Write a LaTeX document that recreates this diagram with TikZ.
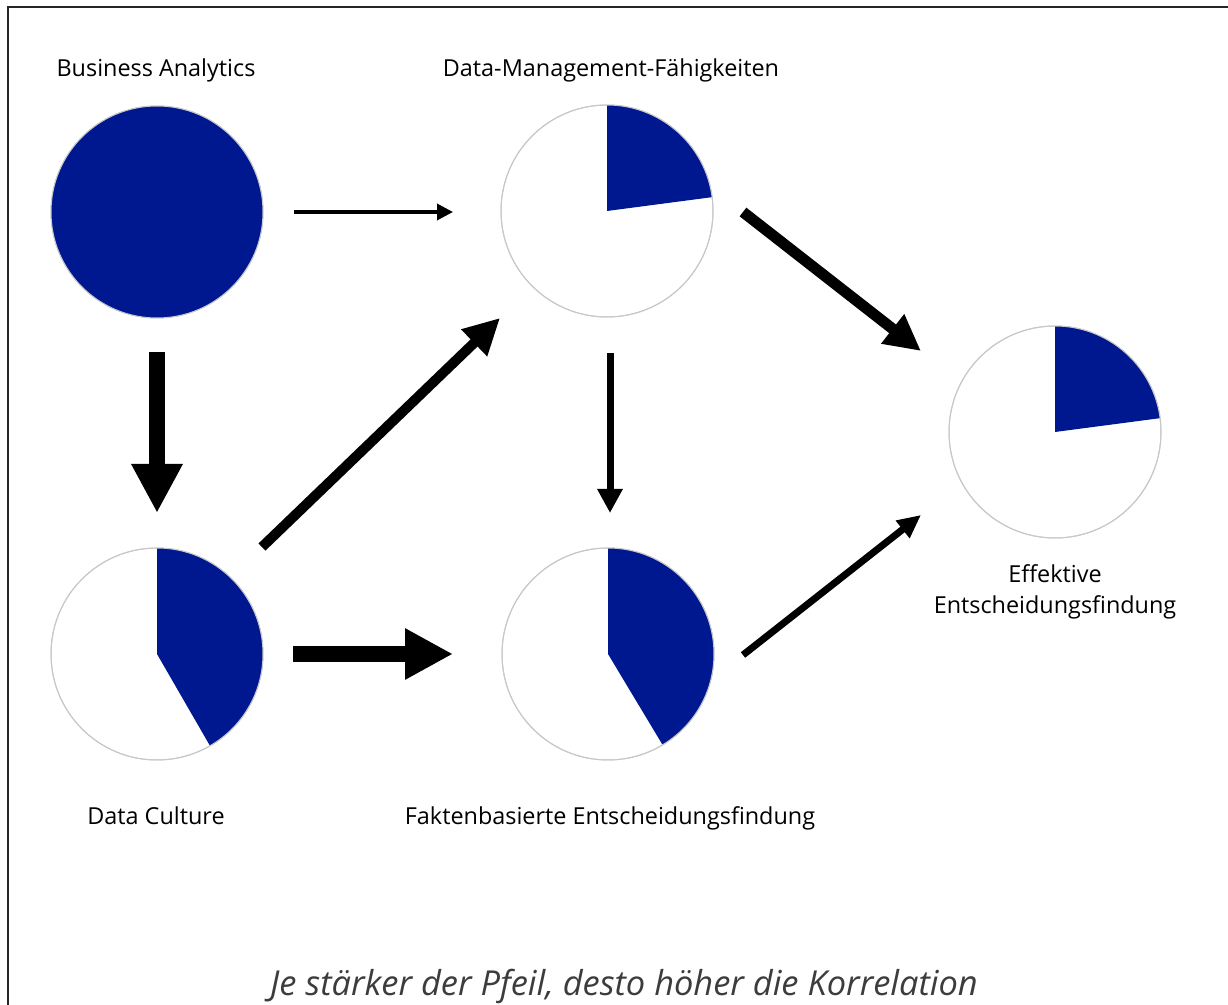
\documentclass[tikz,border=0pt]{standalone}
\usepackage{fontspec}
\setmainfont{Open Sans}
\usetikzlibrary{arrows.meta}
\definecolor{pieblue}{RGB}{0,24,143}
\definecolor{rimgray}{RGB}{200,200,200}
\definecolor{capgray}{RGB}{60,60,60}
\tikzset{
  pie/.style={circle, inner sep=0pt, outer sep=0pt, minimum size=106pt, draw=rimgray, line width=0.5pt},
  lbl/.style={anchor=base, inner sep=0pt, font=\fontsize{11.7}{15.5}\selectfont},
  arr/.style={draw=black, line cap=butt},
}
\begin{document}
\begin{tikzpicture}[x=0.5pt,y=-0.5pt]
\useasboundingbox (0,0) rectangle (1228,1005);
\fill[white] (0,0) rectangle (1228,1005);
\draw[line width=1pt, black!85] (1228,7) -- (8,7) -- (8,1005);

% pie nodes
\node[pie] (ba)  at (157,212) {};
\node[pie] (dm)  at (607,211) {};
\node[pie] (eff) at (1055,432) {};
\node[pie] (dc)  at (157,654) {};
\node[pie] (fe)  at (608,654) {};

\fill[pieblue] (ba.center) circle[radius=53pt];
\fill[pieblue] (dm.center) -- ++(90:53pt) arc[start angle=90, end angle=7.5, radius=53pt] -- cycle;
\fill[pieblue] (eff.center) -- ++(90:53pt) arc[start angle=90, end angle=7.5, radius=53pt] -- cycle;
\fill[pieblue] (dc.center) -- ++(90:53pt) arc[start angle=90, end angle=-60, radius=53pt] -- cycle;
\fill[pieblue] (fe.center) -- ++(90:53pt) arc[start angle=90, end angle=-59, radius=53pt] -- cycle;
\foreach \n in {ba,dm,eff,dc,fe} \draw[rimgray, line width=0.5pt] (\n.center) circle[radius=53pt];

% labels
\node[lbl] (tba) at (156,77) {Business Analytics};
\node[lbl] (tdm) at (611,77) {Data-Management-Fähigkeiten};
\node[lbl] (tdc) at (156,825) {Data Culture};
\node[lbl] (tfe) at (610,825) {Faktenbasierte Entscheidungsfindung};
\node[lbl, align=center, anchor=base] (teff) at (1055,614) {Effektive\\Entscheidungsfindung};
\node[anchor=base, inner sep=0pt, text=capgray, font=\fontsize{17.2}{21}\selectfont\itshape] (cap) at (624,995) {Je stärker der Pfeil, desto höher die Korrelation};

% arrows
\draw[arr, line width=1.75pt, -{Triangle[length=8pt, width=8pt]}]
  ([shift={(31,0)}]ba.east) -- ([shift={(-48,1)}]dm.west);
\draw[arr, line width=8pt, -{Triangle[length=24.5pt, width=24pt]}]
  ([shift={(0,34)}]ba.south) -- ([shift={(0,-35)}]dc.north);
\draw[arr, line width=5pt, -{Triangle[length=18pt, width=17.5pt]}]
  ([shift={(30,-32)}]dc.45) -- ([shift={(-32,32)}]dm.225);
\draw[arr, line width=8pt, -{Triangle[length=24pt, width=24pt]}]
  ([shift={(30,0)}]dc.east) -- ([shift={(-49,0)}]fe.west);
\draw[arr, line width=3.5pt, -{Triangle[length=12pt, width=12pt]}]
  ([shift={(3,36)}]dm.south) -- ([shift={(2,-35)}]fe.north);
\draw[arr, line width=5.5pt, -{Triangle[length=18pt, width=17.5pt]}]
  ([shift={(30,1)}]dm.east) -- ([shift={(-28,-81)}]eff.west);
\draw[arr, line width=3.5pt, -{Triangle[length=11.7pt, width=10.5pt]}]
  ([shift={(29,1)}]fe.east) -- ([shift={(-28,83)}]eff.west);
\end{tikzpicture}
\end{document}
